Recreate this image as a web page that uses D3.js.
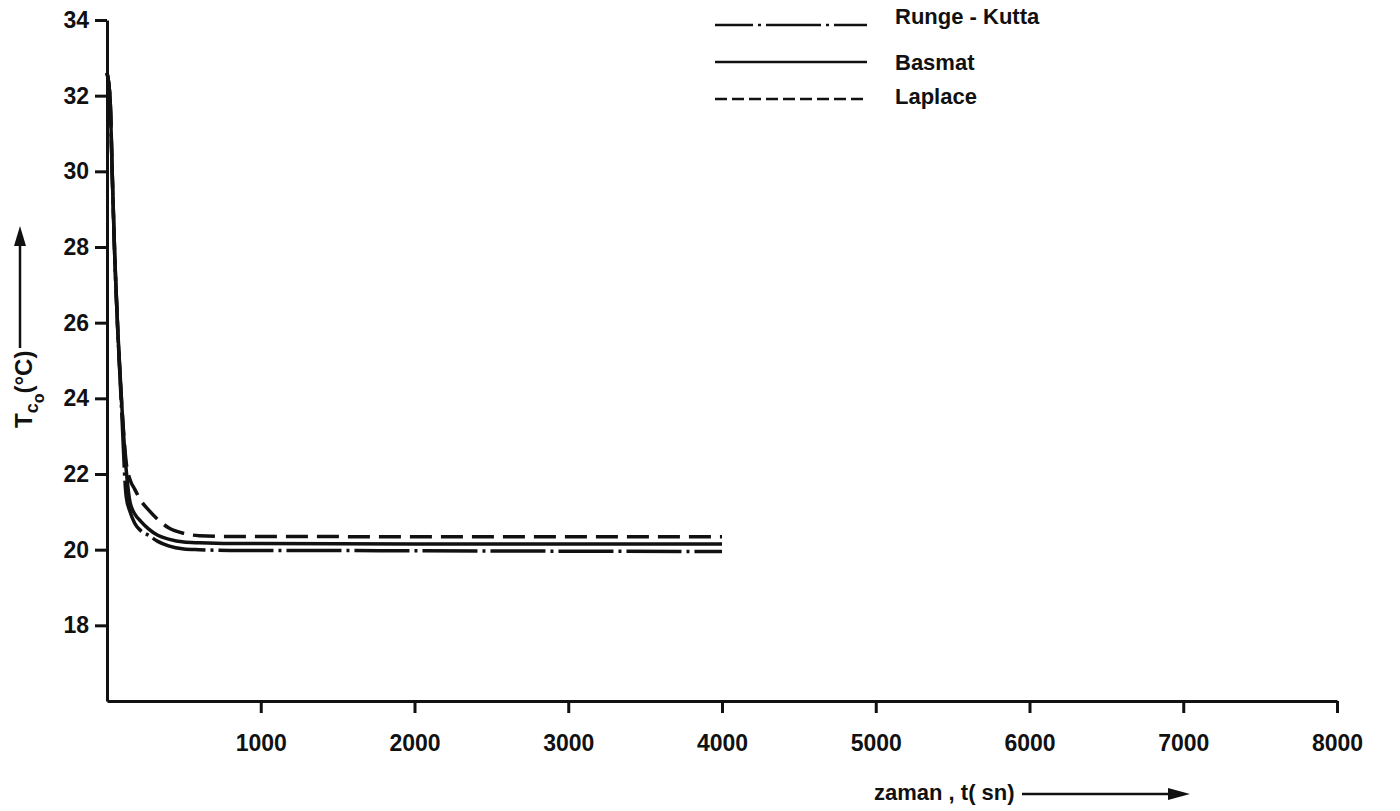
<!DOCTYPE html>
<html>
<head>
<meta charset="utf-8">
<script src="https://cdn.jsdelivr.net/npm/d3@7"></script>
<style>
  body { margin: 0; background: #fff; }
  svg { font-family: "Liberation Sans", Arial, sans-serif; font-weight: bold; }
  .axis path, .axis line { stroke: #111; stroke-width: 3; }
  .axis text { fill: #111; font-weight: bold; }
</style>
</head>
<body>
<div class="chart"></div>
<script>
// time (s) and temperature (°C)
var times      = [0, 20, 35, 50, 70, 95, 125, 150, 180, 220, 270, 330, 400, 500, 600, 800, 1000, 2000, 3000, 4000];
var rungeKutta = [32.6, 31.9, 29.8, 27.8, 25.8, 23.7, 21.4, 21.0, 20.7, 20.5, 20.38, 20.22, 20.1, 20.02, 20.0, 19.98, 19.98, 19.97, 19.96, 19.95];
var basmat     = [32.6, 31.9, 29.8, 27.8, 25.8, 23.9, 22.1, 21.25, 20.95, 20.75, 20.55, 20.38, 20.28, 20.2, 20.18, 20.16, 20.16, 20.15, 20.15, 20.15];
var laplace    = [32.6, 31.9, 29.8, 27.8, 25.8, 23.9, 22.3, 21.85, 21.6, 21.3, 21.05, 20.8, 20.58, 20.43, 20.37, 20.35, 20.35, 20.34, 20.34, 20.34];

var xTicks = [1000, 2000, 3000, 4000, 5000, 6000, 7000, 8000];
var yTicks = [18, 20, 22, 24, 26, 28, 30, 32, 34];
var seriesNames = ["Runge - Kutta", "Basmat", "Laplace"];

var width = 1400, height = 811;

var svg = d3.select(".chart").append("svg")
    .attr("width", width)
    .attr("height", height);

var x = d3.scaleLinear().domain([0, 8000]).range([107, 1337]);
var y = d3.scaleLinear().domain([16, 34]).range([701, 20]);

var xAxis = d3.axisBottom(x).tickValues(xTicks).tickFormat(d3.format("d"))
    .tickSize(12).tickSizeOuter(0).tickPadding(22);
var yAxis = d3.axisLeft(y).tickValues(yTicks).tickFormat(d3.format("d"))
    .tickSize(12).tickSizeOuter(0).tickPadding(6);

svg.append("g")
    .attr("class", "x axis")
    .attr("transform", "translate(0," + y(16) + ")")
    .call(xAxis)
  .selectAll("text")
    .style("font-size", "23px");

svg.append("g")
    .attr("class", "y axis")
    .attr("transform", "translate(" + x(0) + ",0)")
    .call(yAxis)
  .selectAll("text")
    .style("font-size", "23px");

// curves
var series = [
  {name: "rk", values: rungeKutta, dash: "55,5,3,5"},
  {name: "basmat", values: basmat, dash: null},
  {name: "laplace", values: laplace, dash: "22,9"}
];

var line = d3.line()
    .x(function(d){ return x(d[0]); })
    .y(function(d){ return y(d[1]); })
    .curve(d3.curveMonotoneX);

series.forEach(function(s){
  svg.append("path")
      .datum(times.map(function(t, i){ return [t, s.values[i]]; }))
      .attr("d", line)
      .attr("fill", "none")
      .attr("stroke", "#111")
      .attr("stroke-width", 3.5)
      .attr("stroke-dasharray", s.dash);
});

// legend
var legendDash = ["38,5,3,5,55,5,3,5", null, "12,5"];
var legendY = [25, 62, 99];
var legendTextY = [24, 70, 104];
seriesNames.forEach(function(n, i){
  svg.append("line")
      .attr("x1", 715).attr("x2", 867)
      .attr("y1", legendY[i]).attr("y2", legendY[i])
      .attr("stroke", "#111")
      .attr("stroke-width", 2.5)
      .attr("stroke-dasharray", legendDash[i]);
  svg.append("text")
      .attr("x", 895)
      .attr("y", legendTextY[i])
      .style("font-size", "22px")
      .attr("fill", "#111")
      .text(n);
});

// y axis title with arrow
var yt = svg.append("text")
    .attr("transform", "translate(32,428) rotate(-90)")
    .style("font-size", "24px")
    .attr("fill", "#111");
yt.append("tspan").text("T");
yt.append("tspan").attr("dy", 6).style("font-size", "18px").text("c");
yt.append("tspan").attr("dy", 6).style("font-size", "16px").text("o");
yt.append("tspan").attr("dy", -12).text("(°C)");

svg.append("line")
    .attr("x1", 20).attr("x2", 20)
    .attr("y1", 348).attr("y2", 240)
    .attr("stroke", "#111").attr("stroke-width", 2.5);
svg.append("path")
    .attr("d", "M20,226 L14,246 L26,246 Z")
    .attr("fill", "#111");

// x axis title with arrow
svg.append("text")
    .attr("x", 874)
    .attr("y", 800)
    .style("font-size", "22px")
    .attr("fill", "#111")
    .text("zaman , t( sn)");

svg.append("line")
    .attr("x1", 1022).attr("x2", 1170)
    .attr("y1", 794).attr("y2", 794)
    .attr("stroke", "#111").attr("stroke-width", 2.5);
svg.append("path")
    .attr("d", "M1190,794 L1168,788 L1168,800 Z")
    .attr("fill", "#111");
</script>
</body>
</html>
